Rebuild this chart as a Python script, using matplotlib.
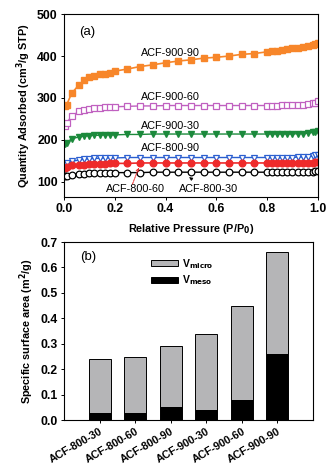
import matplotlib.pyplot as plt
import numpy as np

plt.rcParams['font.family'] = ['Liberation Sans', 'DejaVu Sans']

# (a) N2 isotherms
p_rel = [0.005, 0.01, 0.03, 0.06, 0.08, 0.10, 0.12, 0.14, 0.16, 0.18, 0.20,
         0.25, 0.30, 0.35, 0.40, 0.45, 0.50, 0.55, 0.60, 0.65, 0.70, 0.75,
         0.80, 0.82, 0.84, 0.86, 0.88, 0.90, 0.92, 0.94, 0.96, 0.98, 0.99, 1.00]

acf_900_90 = [281, 283, 311, 332, 342, 349, 353, 356, 358, 360, 364,
              369, 375, 379, 384, 388, 391, 395, 397, 400, 404, 406,
              410, 411, 413, 414, 416, 418, 419, 421, 423, 426, 429, 432]
acf_900_60 = [232, 240, 257, 268, 271, 274, 276, 277, 278, 279, 279,
              280, 281, 281, 282, 282, 282, 282, 282, 282, 282, 282,
              282, 282, 282, 283, 283, 283, 283, 284, 285, 287, 289, 292]
acf_900_30 = [190, 192, 203, 207, 209, 210, 211, 211, 212, 212, 212,
              213, 213, 214, 214, 214, 214, 214, 214, 214, 214, 214,
              214, 214, 214, 214, 214, 214, 215, 215, 216, 218, 219, 221]
acf_800_90 = [143, 144, 149, 152, 154, 155, 156, 156, 157, 157, 157,
              158, 158, 158, 158, 158, 158, 158, 158, 158, 158, 158,
              158, 158, 158, 158, 158, 158, 159, 159, 160, 161, 163, 164]
acf_800_60 = [134, 135, 139, 141, 141, 142, 143, 143, 143, 144, 144,
              144, 145, 145, 145, 145, 145, 145, 145, 145, 145, 145,
              145, 145, 145, 145, 145, 145, 145, 146, 146, 146, 147, 147]
acf_800_30 = [113, 114, 117, 119, 119, 120, 120, 121, 121, 121, 122,
              122, 122, 123, 123, 123, 123, 123, 123, 123, 123, 123,
              123, 123, 123, 123, 123, 123, 123, 124, 124, 124, 125, 125]

# (b) pore volumes
samples = ['ACF-800-30', 'ACF-800-60', 'ACF-800-90',
           'ACF-900-30', 'ACF-900-60', 'ACF-900-90']
v_total = [0.24, 0.25, 0.29, 0.34, 0.45, 0.66]
v_meso = [0.03, 0.03, 0.05, 0.04, 0.08, 0.26]

fig = plt.figure(figsize=(3.34, 4.70), dpi=100)
ax1 = fig.add_axes([0.1916, 0.581, 0.760, 0.389])
ax2 = fig.add_axes([0.1916, 0.106, 0.7455, 0.379])

ms = 4.8
ax1.plot(p_rel, acf_900_90, '-s', color='#f7862a', mfc='#f7862a', mec='#f7862a',
         ms=ms, lw=1.2)
ax1.plot(p_rel, acf_900_60, '-s', color='#c060c0', mfc='white', mec='#c060c0',
         ms=ms, lw=1.0, mew=0.9)
ax1.plot(p_rel, acf_900_30, '-v', color='#1c8a3c', mfc='#1c8a3c', mec='#1c8a3c',
         ms=ms, lw=1.0)
ax1.plot(p_rel, acf_800_90, '-v', color='#2b5fd0', mfc='white', mec='#2b5fd0',
         ms=ms, lw=1.0, mew=0.9)
ax1.plot(p_rel, acf_800_60, '-o', color='#ee2a2a', mfc='#ee2a2a', mec='#ee2a2a',
         ms=ms, lw=1.2)
ax1.plot(p_rel, acf_800_30, '-o', color='black', mfc='white', mec='black',
         ms=ms, lw=1.0, mew=0.9)

lab_fs = 7.8
ax1.text(0.42, 407, 'ACF-900-90', ha='center', va='center', fontsize=lab_fs)
ax1.text(0.42, 302, 'ACF-900-60', ha='center', va='center', fontsize=lab_fs)
ax1.text(0.42, 233, 'ACF-900-30', ha='center', va='center', fontsize=lab_fs)
ax1.text(0.42, 181, 'ACF-800-90', ha='center', va='center', fontsize=lab_fs)
ax1.text(0.28, 83, 'ACF-800-60', ha='center', va='center', fontsize=lab_fs)
ax1.text(0.57, 83, 'ACF-800-30', ha='center', va='center', fontsize=lab_fs)
ax1.annotate('', xy=(0.295, 134), xytext=(0.27, 95),
             arrowprops=dict(arrowstyle='->', color='#ee2a2a', lw=0.7,
                             ls=(0, (2, 1)), mutation_scale=5,
                             shrinkA=0, shrinkB=0))
ax1.annotate('', xy=(0.493, 111), xytext=(0.505, 106),
             arrowprops=dict(arrowstyle='-|>', color='black', lw=0.5,
                             mutation_scale=5, shrinkA=0, shrinkB=0))
ax1.text(0.09, 457, '(a)', ha='center', va='center', fontsize=9.5)

ax1.set_xlim(0, 1.0)
ax1.set_ylim(64, 500)
ax1.set_xticks(np.arange(0, 1.01, 0.2))
ax1.set_yticks([100, 200, 300, 400, 500])
ax1.set_xlabel('Relative Pressure (P/P$_\\mathbf{0}$)', fontsize=7.8,
               fontweight='bold', labelpad=5)
ax1.set_ylabel('Quantity Adsorbed (cm$^\\mathbf{3}$/g STP)', fontsize=7.8,
               fontweight='bold', labelpad=3)

# stacked bars: meso at the bottom, micro on top
x = np.arange(1, len(samples) + 1)
v_micro = [t - m for t, m in zip(v_total, v_meso)]
ax2.bar(x, v_micro, bottom=v_meso, width=0.62, color='#b5b5b7',
        edgecolor='black', lw=0.7, label='V$_\\mathbf{micro}$')
ax2.bar(x, v_meso, width=0.62, color='black', edgecolor='black', lw=0.7,
        label='V$_\\mathbf{meso}$')
ax2.set_xlim(0, 7)
ax2.set_ylim(0, 0.7)
ax2.set_yticks(np.arange(0, 0.71, 0.1))
ax2.set_xticks(x)
ax2.set_xticklabels(samples, rotation=30, ha='right', rotation_mode='anchor')
ax2.set_ylabel('Specific surface area (m$^\\mathbf{2}$/g)', fontsize=7.8,
               fontweight='bold', labelpad=3)
ax2.text(0.065, 0.64, '(b)', ha='left', va='center', fontsize=9.5,
         transform=ax2.get_yaxis_transform())
leg = ax2.legend(loc='upper left', bbox_to_anchor=(0.31, 0.97), frameon=False,
                 fontsize=7.5, handlelength=2.6, handleheight=0.5,
                 labelspacing=0.3, handletextpad=0.4)
for t in leg.get_texts():
    t.set_fontweight('bold')

for ax in (ax1, ax2):
    ax.tick_params(direction='out', length=2.5, width=0.7, labelsize=8.8,
                   pad=2)
    for lbl in ax.get_xticklabels() + ax.get_yticklabels():
        lbl.set_fontweight('bold')
    for sp in ax.spines.values():
        sp.set_linewidth(0.8)
ax2.tick_params(axis='x', labelsize=7.8)

fig.savefig('out.png', dpi=100)
